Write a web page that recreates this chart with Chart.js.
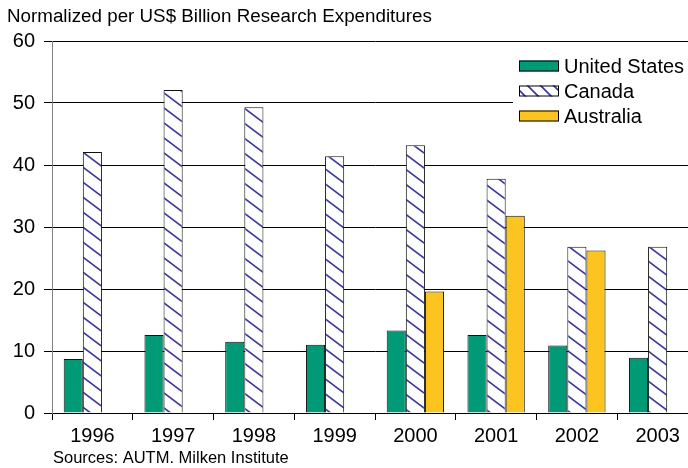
<!DOCTYPE html>
<html>
<head>
<meta charset="utf-8">
<script src="https://cdn.jsdelivr.net/npm/chart.js@4.4.1/dist/chart.umd.min.js"></script>
<style>
  html, body { margin: 0; padding: 0; background: #fff; overflow: hidden; }
  #wrap { width: 688px; height: 468px; overflow: hidden; }
  canvas { display: block; }
</style>
</head>
<body>
<div id="wrap"><canvas id="chart" width="710" height="468"></canvas></div>
<script>
const years = ['1996', '1997', '1998', '1999', '2000', '2001', '2002', '2003'];
const unitedStates = [8.7, 12.6, 11.5, 11.0, 13.3, 12.6, 10.9, 8.9];
const canada = [42.1, 52.1, 49.3, 41.4, 43.2, 37.8, 26.8, 26.8];
const australia = [null, null, null, null, 19.6, 31.8, 26.2, null];
const yTicks = [0, 10, 20, 30, 40, 50, 60];

const GREEN = 'rgb(0,155,118)';
const GOLD = 'rgb(252,196,31)';
const HATCH = 'rgb(58,58,160)';
const FONT = '"Liberation Sans", Arial, sans-serif';

// diagonal "\" hatch on white
function makeHatch(w, h, lw) {
  const c = document.createElement('canvas');
  c.width = w; c.height = h;
  const g = c.getContext('2d');
  g.fillStyle = '#fff';
  g.fillRect(0, 0, w, h);
  g.strokeStyle = HATCH;
  g.lineWidth = lw;
  g.beginPath();
  g.moveTo(-w, -h); g.lineTo(2 * w, 2 * h);
  g.moveTo(-w, 0); g.lineTo(w, 2 * h);
  g.moveTo(0, -h); g.lineTo(2 * w, h);
  g.stroke();
  return document.getElementById('chart').getContext('2d').createPattern(c, 'repeat');
}

const barHatch = makeHatch(20, 15, 1.7);
const keyHatch = makeHatch(13, 13, 1.7);

// title, source line and the boxed key
const extras = {
  id: 'extras',
  afterDraw(chart) {
    const ctx = chart.ctx;
    ctx.save();
    ctx.fillStyle = '#000';
    ctx.textBaseline = 'middle';
    ctx.textAlign = 'left';
    ctx.font = '18.8px ' + FONT;
    ctx.fillText('Normalized per US$ Billion Research Expenditures', 7, 17);
    ctx.font = '16.5px ' + FONT;
    ctx.fillText('Sources: AUTM. Milken Institute', 53, 458);

    ctx.fillStyle = '#fff';
    ctx.fillRect(513, 53, 200, 76);
    const items = [
      ['United States', GREEN],
      ['Canada', keyHatch],
      ['Australia', GOLD]
    ];
    ctx.font = '20px ' + FONT;
    items.forEach((it, i) => {
      const y = 66 + i * 25;
      ctx.fillStyle = it[1];
      ctx.fillRect(519, y - 5.5, 40, 11);
      ctx.strokeStyle = '#000';
      ctx.lineWidth = 1;
      ctx.strokeRect(519.5, y - 5, 39, 10);
      ctx.fillStyle = '#000';
      ctx.fillText(it[0], 564, y + 1);
    });
    ctx.restore();
  }
};

new Chart(document.getElementById('chart'), {
  type: 'bar',
  data: {
    labels: years,
    datasets: [
      { label: 'United States', data: unitedStates, backgroundColor: GREEN },
      { label: 'Canada', data: canada, backgroundColor: barHatch },
      { label: 'Australia', data: australia, backgroundColor: GOLD }
    ]
  },
  options: {
    responsive: false,
    animation: false,
    devicePixelRatio: 1,
    layout: { padding: { top: 41, right: 12, bottom: 0, left: 0 } },
    datasets: {
      bar: {
        categoryPercentage: 0.71,
        barPercentage: 1,
        borderColor: '#111',
        borderWidth: 1,
        borderSkipped: 'bottom'
      }
    },
    plugins: {
      legend: { display: false },
      tooltip: { enabled: false }
    },
    scales: {
      x: {
        offset: true,
        afterFit(scale) { scale.height = 55; },
        grid: {
          offset: true,
          drawOnChartArea: false,
          drawTicks: true,
          tickLength: 7,
          color: '#000',
          tickColor: '#000'
        },
        border: { display: true, color: '#000', width: 1 },
        ticks: {
          color: '#000',
          padding: 4,
          maxRotation: 0,
          font: { family: FONT, size: 20 }
        }
      },
      y: {
        min: 0,
        max: 60,
        afterFit(scale) { scale.width = 52; },
        afterBuildTicks(scale) { scale.ticks = yTicks.map(v => ({ value: v })); },
        grid: {
          color: '#000',
          tickColor: '#000',
          tickLength: 8,
          lineWidth: 1
        },
        border: { display: true, color: '#808080', width: 1 },
        ticks: {
          color: '#000',
          padding: 9,
          font: { family: FONT, size: 20 }
        }
      }
    }
  },
  plugins: [extras]
});
</script>
</body>
</html>
